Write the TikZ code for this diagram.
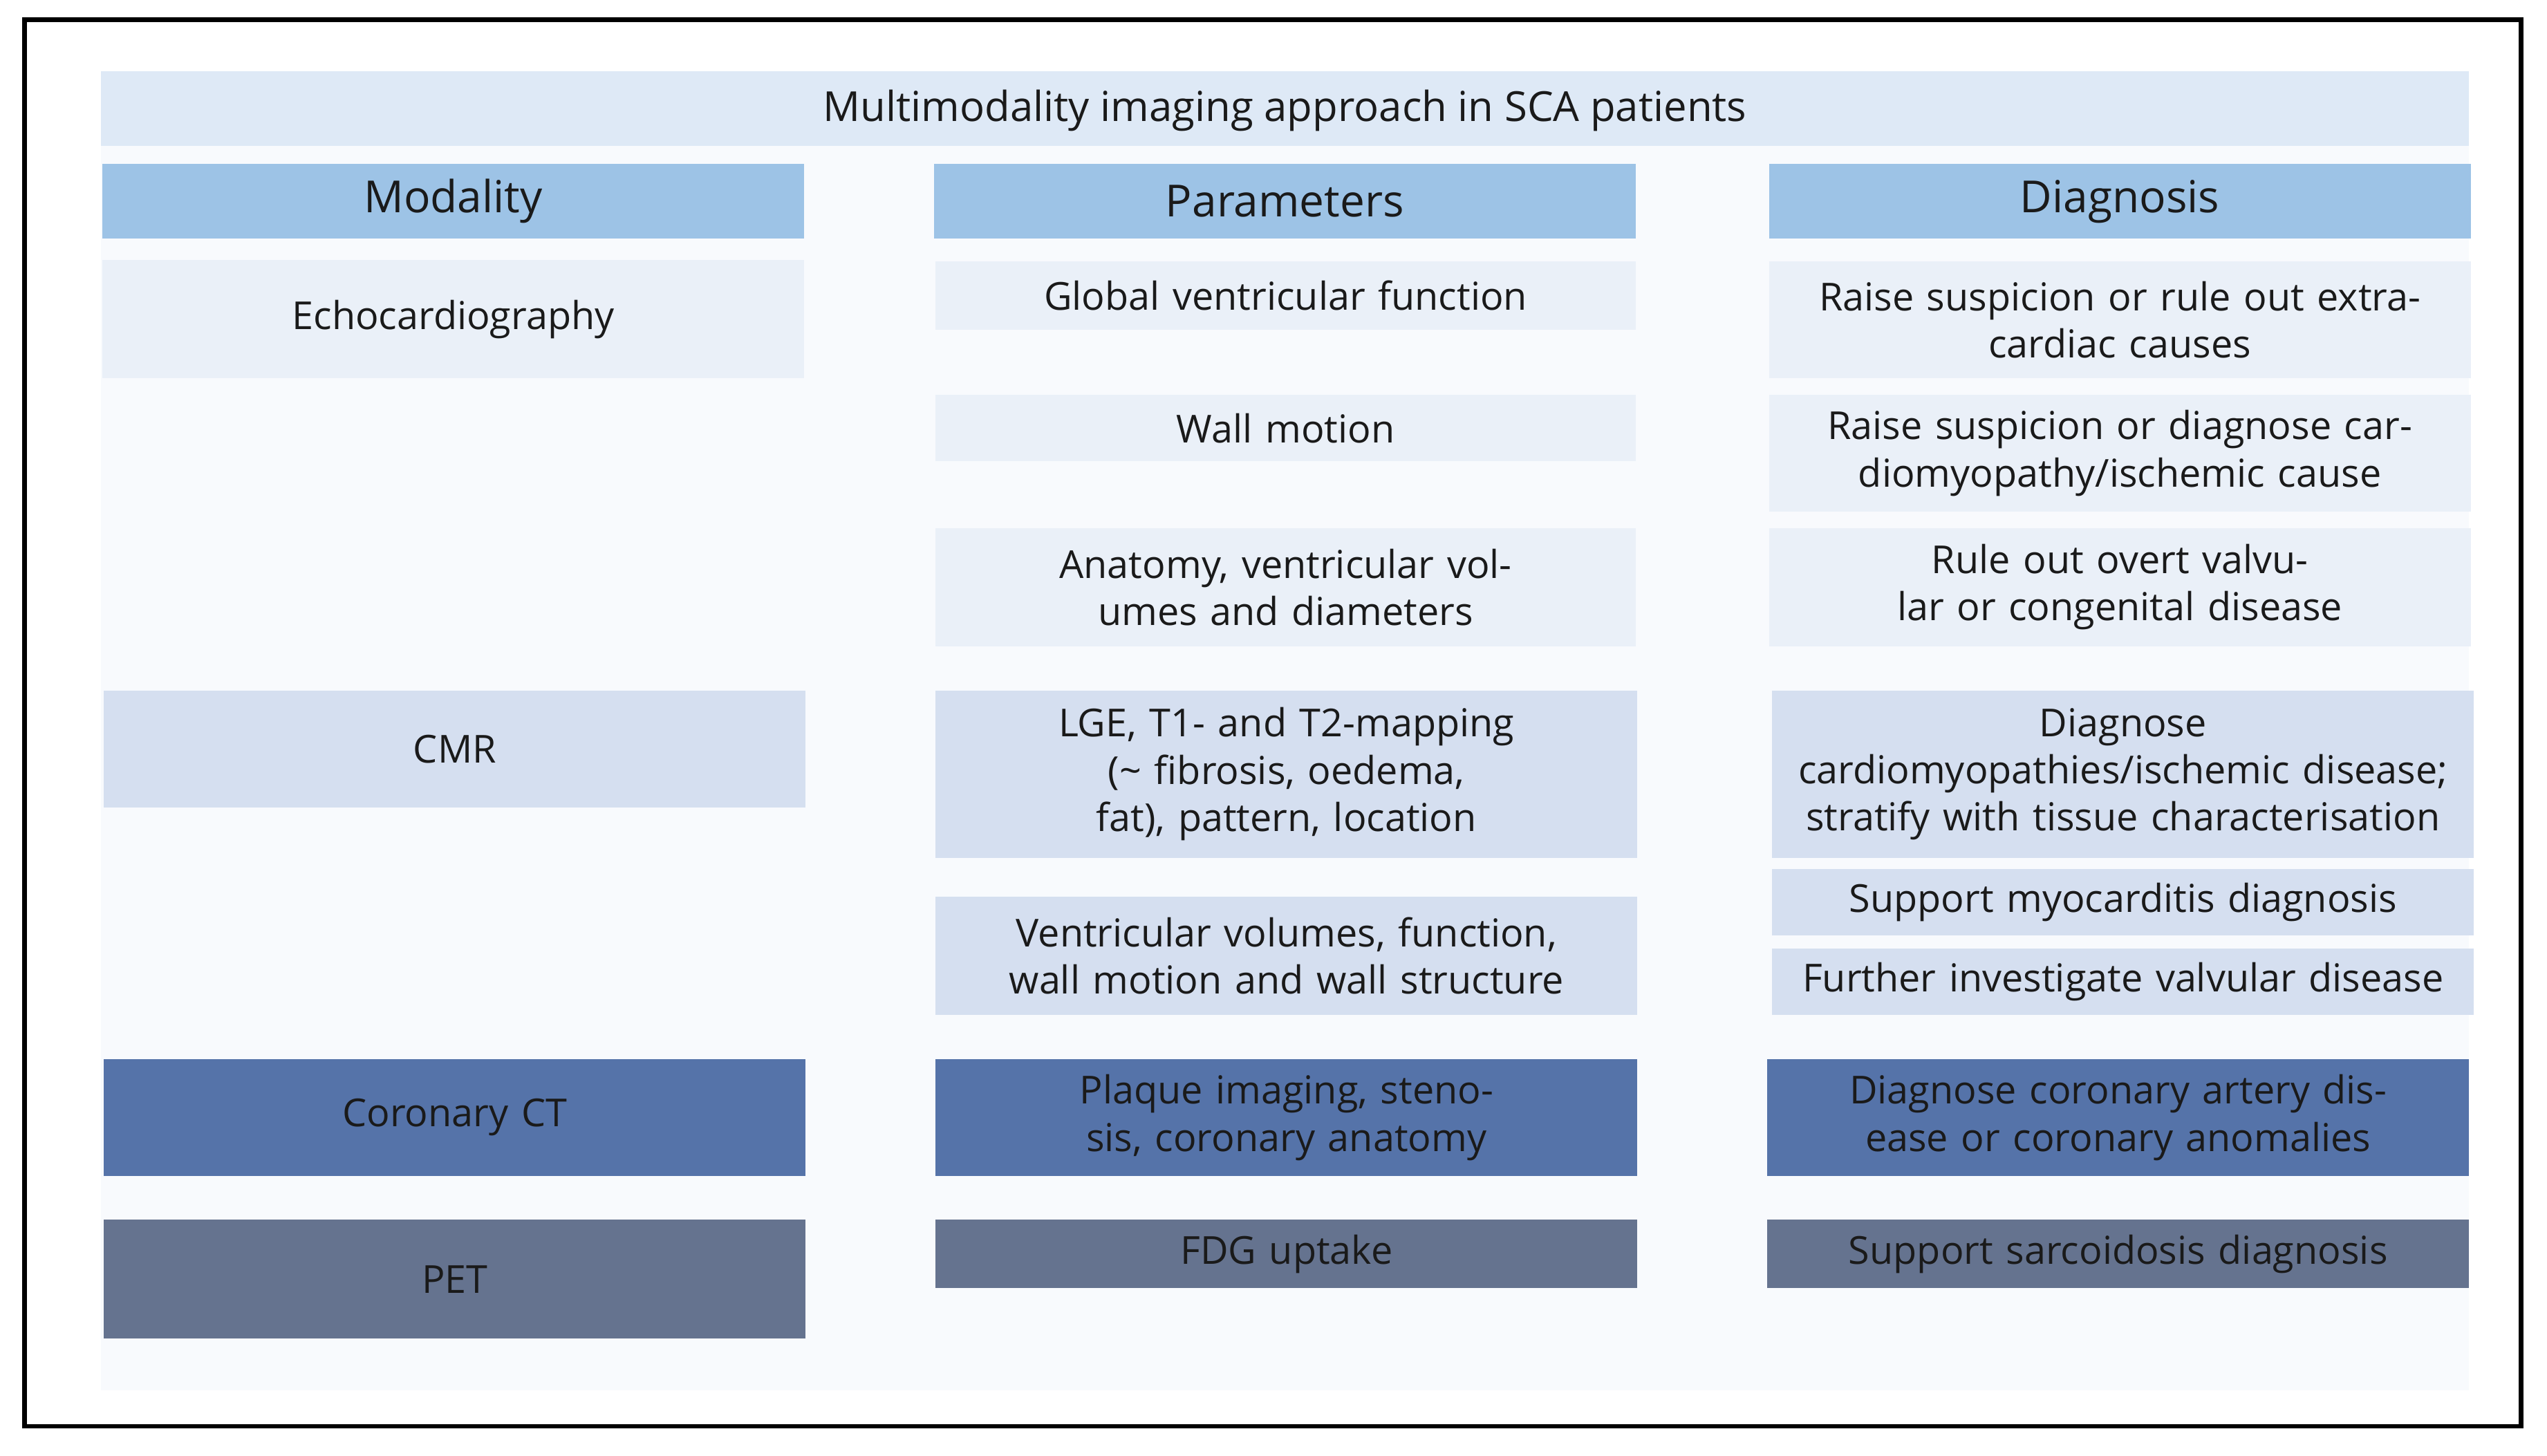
\documentclass[tikz,border=0pt]{standalone}
\usepackage{fontspec}
\setmainfont{Open Sans}
\definecolor{bgp}{HTML}{F8FAFD}
\definecolor{ttl}{HTML}{DEE9F6}
\definecolor{hdr}{HTML}{9DC3E6}
\definecolor{ech}{HTML}{EAF0F8}
\definecolor{cmr}{HTML}{D5DFF0}
\definecolor{cct}{HTML}{5573A9}
\definecolor{pet}{HTML}{65738F}
\definecolor{txt}{HTML}{1A1A1A}
\tikzset{
 cell/.style={draw=none,inner sep=0pt,align=center,text=txt,font=\fontsize{13.5}{16.5}\selectfont},
 hd/.style={cell,fill=hdr,font=\fontsize{15}{18}\selectfont},
}
\newcommand{\cellbox}[6]{% name, x1,y1,x2,y2, style+text
 \path[#6] (#2,#3) rectangle (#4,#5);}
\begin{document}
\begin{tikzpicture}[x=0.02cm,y=-0.02cm]
\fill[white] (0,0) rectangle (1568,896);
\useasboundingbox (0,0) rectangle (1568,896);
\draw[line width=1.6pt] (15,12) rectangle (1552,878);
\fill[bgp] (62,44) rectangle (1520,856);
\def\C#1#2#3#4#5#6#7{\fill[#6] (#2,#3) rectangle (#4,#5); \node[cell,text width={(#4-#2)*0.02cm-0.2cm}] (#1) at ({(#2+#4)/2},{(#3+#5)/2}) {#7};}
\fill[ttl] (62,44) rectangle (1520,90);
\node[cell,font=\fontsize{14.5}{17}\selectfont] (title) at (791,68) {Multimodality imaging approach in SCA patients};
\C{h1}{63}{101}{495}{147}{hdr}{\fontsize{15.5}{18}\selectfont Modality}
\C{h2}{575}{101}{1007}{147}{hdr}{\fontsize{15.5}{18}\selectfont Parameters}
\C{h3}{1089}{101}{1521}{147}{hdr}{\fontsize{15.5}{18}\selectfont Diagnosis}
\C{m1}{63}{160}{495}{233}{ech}{Echocardiography}
\C{p1}{576}{161}{1007}{203}{ech}{Global ventricular function}
\C{p2}{576}{243}{1007}{284}{ech}{Wall motion}
\C{p3}{576}{325}{1007}{398}{ech}{Anatomy, ventricular volumes and diameters}
\C{d1}{1089}{161}{1521}{233}{ech}{Raise suspicion or rule out extra-\\cardiac causes}
\C{d2}{1089}{243}{1521}{315}{ech}{Raise suspicion or diagnose cardiomyopathy/ischemic cause}
\C{d3}{1089}{325}{1521}{398}{ech}{Rule out overt valvular or congenital disease}
\C{m2}{64}{425}{496}{497}{cmr}{CMR}
\C{p4}{576}{425}{1008}{528}{cmr}{LGE, T1- and T2-mapping\\(\textasciitilde{} fibrosis, oedema, fat), pattern, location}
\C{p5}{576}{552}{1008}{625}{cmr}{Ventricular volumes, function, wall motion and wall structure}
\C{d4}{1091}{425}{1523}{528}{cmr}{Diagnose\\cardiomyopathies/ischemic disease; stratify with tissue characterisation}
\C{d5}{1091}{535}{1523}{576}{cmr}{Support myocarditis diagnosis}
\C{d6}{1091}{584}{1523}{625}{cmr}{Further investigate valvular disease}
\C{m3}{64}{652}{496}{724}{cct}{Coronary CT}
\C{p6}{576}{652}{1008}{724}{cct}{Plaque imaging, stenosis, coronary anatomy}
\C{d7}{1088}{652}{1520}{724}{cct}{Diagnose coronary artery disease or coronary anomalies}
\C{m4}{64}{751}{496}{824}{pet}{PET}
\C{p7}{576}{751}{1008}{793}{pet}{FDG uptake}
\C{d8}{1088}{751}{1520}{793}{pet}{Support sarcoidosis diagnosis}
\end{tikzpicture}
\end{document}
